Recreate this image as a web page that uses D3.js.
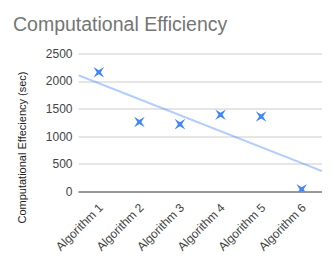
<!DOCTYPE html>
<html>
<head>
<meta charset="utf-8">
<script src="https://cdn.jsdelivr.net/npm/d3@7"></script>
<style>
  body { margin: 0; background: #fff; }
  text { font-family: Arial, "Liberation Sans", sans-serif; }
</style>
</head>
<body>
<div id="chart"></div>
<script>
// chart data
var categories = ["Algorithm 1", "Algorithm 2", "Algorithm 3", "Algorithm 4", "Algorithm 5", "Algorithm 6"];
var times = [2160, 1260, 1220, 1390, 1360, 40];
var yTicks = [0, 500, 1000, 1500, 2000, 2500];

var width = 334, height = 259;
var margin = { top: 53.5, right: 12, bottom: 67.5, left: 78.5 };
var plotW = width - margin.left - margin.right;
var plotH = height - margin.top - margin.bottom;

var svg = d3.select("#chart").append("svg")
    .attr("width", width)
    .attr("height", height);

svg.append("text")
    .attr("x", 13)
    .attr("y", 31)
    .style("font-size", "19.5px")
    .style("fill", "#757575")
    .text("Computational Efficiency");

var g = svg.append("g")
    .attr("transform", "translate(" + margin.left + "," + margin.top + ")");

var x = d3.scaleBand().domain(categories).range([0, plotW]).padding(0);
var y = d3.scaleLinear().domain([0, 2500]).range([plotH, 0]);

// gridlines
g.append("g").selectAll("line")
    .data(yTicks.filter(d => d > 0))
    .enter().append("line")
    .attr("x1", 0).attr("x2", plotW)
    .attr("y1", d => Math.round(y(d)) + 0.5)
    .attr("y2", d => Math.round(y(d)) + 0.5)
    .style("stroke", "#cccccc")
    .style("stroke-width", 1);

// y labels
g.append("g").selectAll("text")
    .data(yTicks)
    .enter().append("text")
    .attr("x", -6)
    .attr("y", d => y(d))
    .attr("dy", "0.35em")
    .attr("text-anchor", "end")
    .style("font-size", "12px")
    .style("fill", "#444")
    .text(d => d);

// x labels
g.append("g").selectAll("text")
    .data(categories)
    .enter().append("text")
    .attr("transform", d => "translate(" + (x(d) + x.bandwidth() / 2 + 5) + "," + (plotH + 17) + ") rotate(-45)")
    .attr("text-anchor", "end")
    .style("font-size", "12px")
    .style("fill", "#444")
    .text(d => d);

// axis title
svg.append("text")
    .attr("transform", "translate(26," + (margin.top + 94) + ") rotate(-90)")
    .attr("text-anchor", "middle")
    .style("font-size", "11px")
    .style("fill", "#222")
    .text("Computational Effeciency (sec)");

svg.append("clipPath").attr("id", "plotclip")
    .append("rect")
    .attr("x", margin.left).attr("y", margin.top)
    .attr("width", plotW).attr("height", plotH);

// linear trendline over category index
var idx = times.map((d, i) => i + 1);
var mx = d3.mean(idx), my = d3.mean(times);
var slope = d3.sum(idx, (d, i) => (d - mx) * (times[i] - my)) / d3.sum(idx, d => (d - mx) * (d - mx));
var icpt = my - slope * mx;
var xLin = d3.scaleLinear().domain([0.5, categories.length + 0.5]).range([0, plotW]);

// clip path is in svg coordinates, so wrap in an untransformed group
var clipG = svg.append("g").attr("clip-path", "url(#plotclip)");
var inner = clipG.append("g").attr("transform", "translate(" + margin.left + "," + margin.top + ")");

inner.append("line")
    .attr("x1", xLin(0.5)).attr("y1", y(icpt + slope * 0.5))
    .attr("x2", xLin(categories.length + 0.5)).attr("y2", y(icpt + slope * (categories.length + 0.5)))
    .style("stroke", "#4285f4")
    .style("stroke-opacity", 0.4)
    .style("stroke-width", 2);

// x-shaped star marker
function starPath(ro, ri) {
    var pts = [];
    for (var k = 0; k < 8; k++) {
        var a = Math.PI / 4 * k + Math.PI / 4;
        var r = k % 2 === 0 ? ro : ri;
        pts.push([r * Math.cos(a), r * Math.sin(a)]);
    }
    return "M" + pts.map(p => p[0].toFixed(2) + "," + p[1].toFixed(2)).join("L") + "Z";
}

inner.append("g").selectAll("path")
    .data(times)
    .enter().append("path")
    .attr("transform", (d, i) => "translate(" + (x(categories[i]) + x.bandwidth() / 2) + "," + y(d) + ")")
    .attr("d", starPath(7.5, 2))
    .style("fill", "#4285f4");

// baseline
g.append("line")
    .attr("x1", 0).attr("x2", plotW)
    .attr("y1", Math.round(y(0)) + 0.5).attr("y2", Math.round(y(0)) + 0.5)
    .style("stroke", "#333")
    .style("stroke-width", 1);
</script>
</body>
</html>
